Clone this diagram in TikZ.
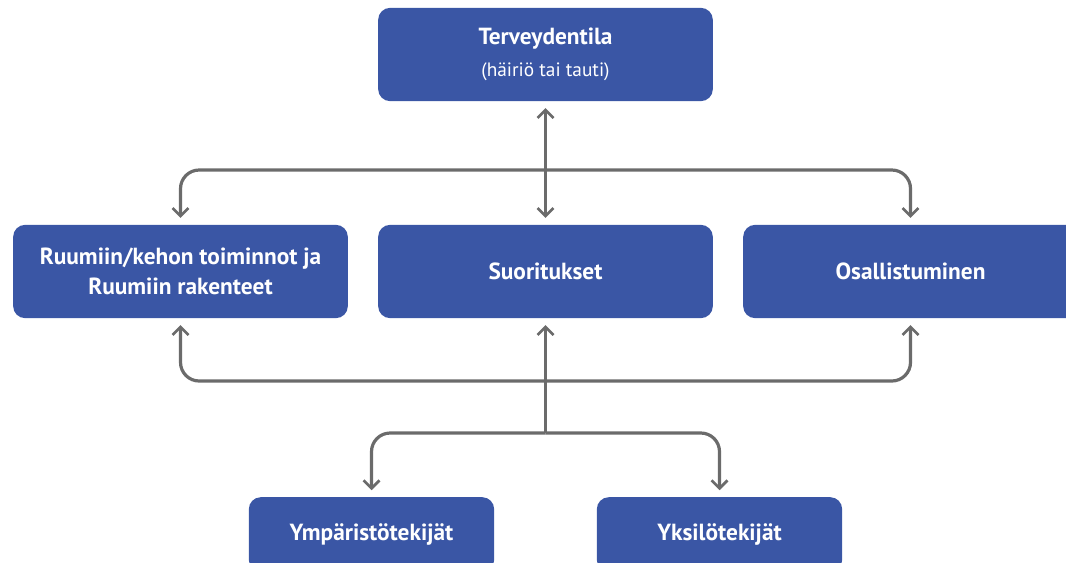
\documentclass[tikz,border=0pt]{standalone}
\usepackage{fontspec}
\setmainfont{PT Sans}
\usetikzlibrary{arrows.meta}
\definecolor{boxblue}{HTML}{3A56A5}
\definecolor{linegray}{HTML}{6B6B6B}
\tikzset{
  box/.style={rectangle,rounded corners=9pt,fill=boxblue,text=white,
    font=\bfseries\fontsize{17.5}{23}\selectfont,align=center,
    minimum width=251pt,minimum height=70pt,inner sep=0pt},
  link/.style={draw=linegray,line width=2.4pt,rounded corners=14pt,
    -{Straight Barb[length=6pt,width=12pt,line width=2pt]},shorten >=5pt},
}
\begin{document}
\begin{tikzpicture}[x=0.75pt,y=-0.75pt]
  \useasboundingbox (0,0) rectangle (1066,562);
  \node[box] (health) at (545.5,54.5) {Terveydentila\\[1pt]{\fontsize{14.5}{17}\mdseries\selectfont (häiriö tai tauti)}};
  \node[box] (body) at (180.5,271.5) {Ruumiin/kehon toiminnot ja\\Ruumiin rakenteet};
  \node[box] (act) at (545.5,271.5) {Suoritukset};
  \node[box] (part) at (910.5,271.5) {Osallistuminen};
  \node[box,minimum width=184pt,minimum height=56pt] (env) at (371.5,534.5) {Ympäristötekijät};
  \node[box,minimum width=184pt,minimum height=56pt] (pers) at (719.5,534.5) {Yksilötekijät};
  \coordinate (jtop) at (545.5,170);
  \coordinate (jbot) at (545.5,381);
  \coordinate (jlow) at (545.5,433);
  \draw[link,shorten <=5pt,{Straight Barb[length=6pt,width=12pt,line width=2pt]}-{Straight Barb[length=6pt,width=12pt,line width=2pt]}] (health) -- (act);
  \draw[link] (jtop) -| (body.north);
  \draw[link] (jtop) -| (part.north);
  \draw[link] (jbot) -| (body.south);
  \draw[link] (jbot) -| (part.south);
  \draw[link] (jlow) -- (act.south);
  \draw[link] (jlow) -| (env.north);
  \draw[link] (jlow) -| (pers.north);
\end{tikzpicture}
\end{document}
